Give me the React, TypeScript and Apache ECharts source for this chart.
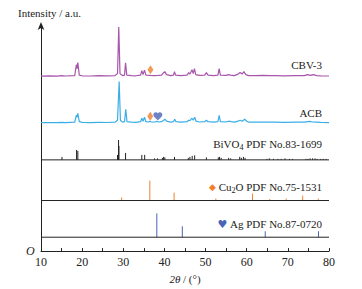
import React, { useEffect, useRef } from "react";
import * as echarts from "echarts";

// 2θ (°) vs intensity above each pattern's own baseline (a.u.)
const cbv3Pattern: [number, number][] = [
  [10, 0.5], [12, 0.7], [14, 0.4], [15, 0.9], [16, 0.6], [18.2, 1], [18.6, 12], [18.75, 8], [18.95, 14], [19.3, 1.5],
  [20, 0.8], [22, 0.6], [24, 0.9], [26, 0.7], [28, 1], [28.6, 3], [28.9, 50], [29.2, 3], [29.8, 1], [30.3, 1.5],
  [30.55, 14], [30.85, 1.5], [32, 1], [33, 0.8], [34.2, 1.5], [34.5, 6], [34.8, 2], [35.15, 6.5], [35.5, 1.5],
  [36.5, 1.2], [37.5, 1], [38.5, 1.2], [39.3, 1.5], [39.8, 4], [40.1, 5], [40.5, 2], [41.5, 1], [42.2, 1.5],
  [42.45, 5], [42.7, 1.5], [44, 1], [45.5, 1.5], [45.9, 4], [46.2, 2.5], [46.7, 7], [47.0, 3], [47.3, 8], [47.6, 2],
  [48.5, 1.2], [49.8, 1.5], [50.2, 4], [50.6, 1.5], [52, 1], [53.0, 1.5], [53.3, 8], [53.6, 1.5], [55, 1.2],
  [55.6, 2], [56.0, 1.5], [57, 1], [57.9, 2.5], [58.4, 4], [58.9, 2.5], [59.3, 5], [59.8, 2], [60.5, 1], [62, 1],
  [64, 1.2], [65.5, 1], [67, 1], [69, 0.8], [72, 1], [74, 1], [74.8, 2], [75.5, 1.2], [76.2, 2], [77, 1], [78, 0.8], [80, 0.6],
];

const acbPattern: [number, number][] = [
  [10, 0.5], [12, 0.6], [14, 0.5], [15, 0.8], [16, 0.6], [18.2, 1], [18.6, 8], [18.75, 6], [18.95, 10], [19.3, 1.5],
  [20, 0.8], [22, 0.6], [24, 0.8], [26, 0.7], [28, 1], [28.6, 3], [29.0, 42], [29.3, 3], [29.8, 1], [30.3, 1.5],
  [30.6, 14], [30.9, 1.5], [32, 1], [33, 0.8], [34.2, 1.5], [34.5, 5], [34.8, 2], [35.15, 6], [35.5, 1.5],
  [36.2, 1.2], [36.45, 2], [36.8, 1.2], [37.8, 1.2], [38.15, 2], [38.5, 1.2], [39.3, 1.5], [39.8, 3], [40.1, 4],
  [40.5, 2], [41.5, 1], [42.2, 1.5], [42.5, 4], [42.8, 1.5], [44, 1], [45.5, 1.5], [45.9, 3], [46.2, 2.5],
  [46.7, 5], [47.0, 3], [47.35, 6], [47.7, 2], [48.5, 1.2], [49.8, 1.5], [50.2, 3], [50.6, 1.5], [52, 1],
  [53.0, 1.5], [53.3, 8], [53.6, 1.5], [55, 1.2], [55.6, 2], [56.2, 1.5], [57, 1], [57.9, 2], [58.4, 3],
  [58.9, 2], [59.5, 4], [60.0, 2], [60.5, 1], [62, 1], [64, 1.2], [65.5, 1], [67, 1], [69, 0.8], [72, 1],
  [74, 1], [75.3, 1.8], [76, 1.2], [77, 1], [78, 0.8], [80, 0.6],
];

// Standard reference sticks: [2θ, relative height]
const bivo4Sticks: [number, number][] = [
  [15.1, 3], [18.65, 10], [18.95, 9], [28.6, 5], [28.85, 20], [28.95, 14], [30.55, 7], [34.5, 5], [35.2, 5],
  [37.6, 1.5], [38.3, 1.5], [39.5, 2], [39.8, 3], [40.1, 2.5], [42.45, 3], [45.8, 2], [46.2, 3], [46.75, 4],
  [47.35, 4.5], [50.2, 2.5], [53.1, 2.5], [53.4, 3], [53.8, 2], [55.6, 2], [56.1, 1.5], [58.3, 3], [58.7, 2],
  [59.2, 3], [59.6, 2], [64.9, 1], [65.5, 1.5], [66.5, 1], [67.6, 1], [68.4, 1], [69.3, 1.5], [70.4, 1],
  [71.1, 1], [74.4, 1], [74.9, 1], [75.4, 1.5], [76.0, 1.5], [76.6, 1.5], [77.1, 1], [78.0, 1], [78.6, 1], [79.3, 1],
];
const cu2oSticks: [number, number][] = [
  [29.6, 3], [36.45, 20], [42.35, 8], [52.5, 2], [61.4, 7], [65.6, 1.5], [69.6, 2], [73.6, 5], [77.4, 2],
];
const agSticks: [number, number][] = [
  [38.15, 24], [44.35, 11], [64.5, 6], [77.45, 6],
];

const xTicks = [10, 20, 30, 40, 50, 60, 70, 80];

const OFF_CBV = 176;
const OFF_ACB = 129;
const OFF_BIVO = 92;
const OFF_CU = 51;
const OFF_AG = 14;

const C_CBV = "#a855ab";
const C_ACB = "#3caee6";
const C_CU = "#f0802e";
const C_AG = "#4a63b8";
const C_BLK = "#222";

const SERIF = "'Liberation Serif', 'Times New Roman', serif";
const HEART =
  "path://M12 21.35l-1.45-1.32C5.4 15.36 2 12.28 2 8.5 2 5.42 4.42 3 7.5 3c1.74 0 3.41.81 4.5 2.09C13.09 3.81 14.76 3 16.5 3 19.58 3 22 5.420 22 8.5c0 3.78-3.4 6.86-8.55 11.54L12 21.35z";

function stickSeries(data: [number, number][], base: number, color: string) {
  return {
    type: "custom",
    data,
    z: 2,
    renderItem: (_p: any, api: any) => {
      const x = api.value(0);
      const h = api.value(1);
      const a = api.coord([x, base]);
      const b = api.coord([x, base + h]);
      return {
        type: "line",
        shape: { x1: a[0], y1: a[1], x2: b[0], y2: b[1] },
        style: { stroke: color, lineWidth: 1 },
      };
    },
  };
}

function baseline(base: number) {
  return {
    type: "line",
    data: [[10, base], [80, base]],
    symbol: "none",
    z: 3,
    lineStyle: { color: C_BLK, width: 1 },
  };
}

export default function App() {
  const ref = useRef<HTMLDivElement>(null);
  useEffect(() => {
    if (!ref.current) return;
    const chart = echarts.init(ref.current, undefined, { renderer: "svg" });
    const label = (x: number, y: number, text: string, rich: any = {}) => ({
      type: "text",
      x,
      y,
      style: {
        text,
        textAlign: "right",
        textVerticalAlign: "middle",
        font: `11px ${SERIF}`,
        fill: C_BLK,
        rich,
      },
    });
    const subRich = { s: { fontSize: 8, fontFamily: SERIF, fill: C_BLK, padding: [6, 0, 0, 0] } };
    chart.setOption({
      animation: false,
      textStyle: { fontFamily: SERIF },
      grid: { left: 41, right: 33, top: 26, bottom: 36, containLabel: false },
      xAxis: {
        type: "value",
        min: xTicks[0],
        max: xTicks[xTicks.length - 1],
        interval: 10,
        axisLine: { lineStyle: { color: C_BLK, width: 1 } },
        axisTick: { inside: true, length: 3, lineStyle: { color: C_BLK } },
        minorTick: { show: true, splitNumber: 2, length: 3, lineStyle: { color: C_BLK } },
        splitLine: { show: false },
        minorSplitLine: { show: false },
        axisLabel: { color: C_BLK, fontSize: 12, fontFamily: SERIF, margin: 5 },
        name: "{i|2θ} / (°)",
        nameLocation: "middle",
        nameGap: 21,
        nameTextStyle: {
          color: C_BLK,
          fontSize: 11,
          fontFamily: SERIF,
          rich: { i: { fontStyle: "italic", fontSize: 11, fontFamily: SERIF, color: C_BLK } },
        },
      },
      yAxis: {
        type: "value",
        min: 0,
        max: 227,
        axisLine: {
          show: true,
          symbol: ["none", "arrow"],
          symbolSize: [5, 8],
          symbolOffset: [0, 4],
          lineStyle: { color: C_BLK, width: 1 },
        },
        axisTick: { show: false },
        axisLabel: { show: false },
        splitLine: { show: false },
      },
      series: [
        {
          type: "line",
          data: cbv3Pattern.map(([x, y]) => [x, OFF_CBV + y]),
          symbol: "none",
          lineStyle: { color: C_CBV, width: 1.2 },
        },
        {
          type: "line",
          data: acbPattern.map(([x, y]) => [x, OFF_ACB + y]),
          symbol: "none",
          lineStyle: { color: C_ACB, width: 1.2 },
        },
        stickSeries(bivo4Sticks, OFF_BIVO, C_BLK),
        stickSeries(cu2oSticks, OFF_CU, C_CU),
        stickSeries(agSticks, OFF_AG, C_AG),
        baseline(OFF_BIVO),
        baseline(OFF_CU),
        baseline(OFF_AG),
        {
          type: "scatter",
          symbol: "diamond",
          symbolSize: [6, 9],
          itemStyle: { color: C_CU },
          data: [[36.6, OFF_CBV + 7], [36.55, OFF_ACB + 7]],
        },
        {
          type: "scatter",
          symbol: HEART,
          symbolSize: [9, 8],
          itemStyle: { color: C_AG },
          data: [[38.4, OFF_ACB + 7]],
        },
      ],
      graphic: [
        {
          type: "text",
          x: 18,
          y: 13,
          style: { text: "Intensity / a.u.", font: `11px ${SERIF}`, fill: C_BLK, textVerticalAlign: "middle" },
        },
        {
          type: "text",
          x: 26,
          y: 251,
          style: { text: "O", font: `italic 12px ${SERIF}`, fill: C_BLK, textVerticalAlign: "middle" },
        },
        label(322, 65, "CBV-3"),
        label(322, 113, "ACB"),
        label(322, 144, "BiVO{s|4} PDF No.83-1699", subRich),
        label(322, 187, "{d|◆} Cu{s|2}O PDF No.75-1531", {
          ...subRich,
          d: { fontSize: 9, fill: C_CU, fontFamily: "'DejaVu Sans'" },
        }),
        label(322, 224, "{h|♥} Ag PDF No.87-0720", {
          h: { fontSize: 11, fill: C_AG, fontFamily: "'DejaVu Sans'" },
        }),
      ],
    });
    return () => chart.dispose();
  }, []);
  return <div ref={ref} style={{ position: "absolute", left: 0, top: 0, width: 362, height: 289 }} />;
}
